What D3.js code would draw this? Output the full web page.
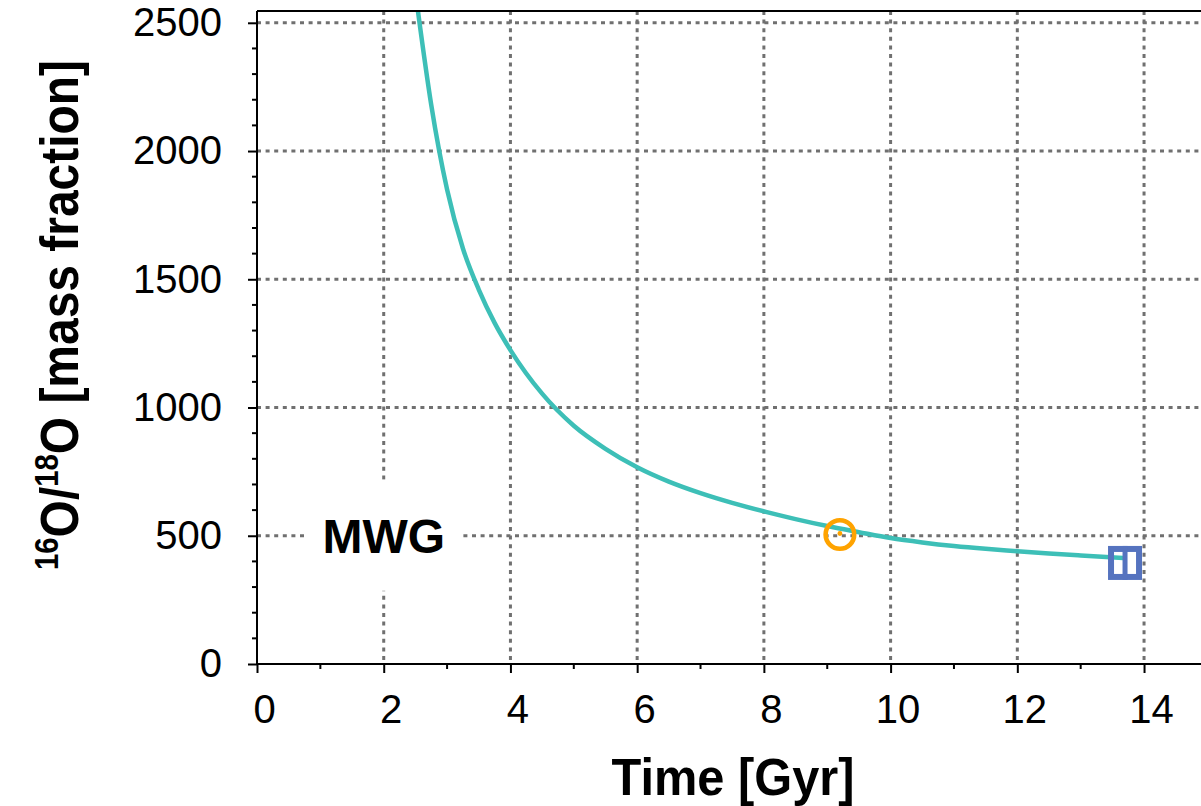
<!DOCTYPE html>
<html>
<head>
<meta charset="utf-8">
<script src="https://cdn.jsdelivr.net/npm/d3@7"></script>
<style>
  html, body { margin: 0; padding: 0; background: #fff; }
  svg { display: block; }
  text { font-family: "Liberation Sans", Arial, Helvetica, sans-serif; }
</style>
</head>
<body>
<svg id="chart" width="1201" height="806"></svg>
<script>
// Galactic chemical evolution of the oxygen isotope ratio (MWG model)
const curveTime  = [2.54, 2.75, 3.0, 3.25, 3.5, 3.75, 4.0, 4.5, 5.0, 5.5, 6.0, 6.5, 7.0, 7.5, 8.0,
                    8.5, 9.0, 9.5, 10.0, 10.5, 11.0, 11.5, 12.0, 12.5, 13.0, 13.67];
const curveRatio = [2546, 2180, 1850, 1620, 1460, 1330, 1224, 1054, 929, 839, 767, 711, 666, 628, 595,
                    565, 538, 514, 491, 474, 460, 449, 440, 431, 423, 413];

// Solar system (at birth) and present-day local ISM reference values
const solarPoint = { time: 9.2, ratio: 505 };
const ismPoint   = { time: 13.7, ratio: 394 };

const xTickValues = [0, 2, 4, 6, 8, 10, 12, 14];
const xMinorTicks = d3.range(0, 16, 1);
const yTickValues = [0, 500, 1000, 1500, 2000, 2500];
const yMinorTicks = d3.range(0, 2600, 100);

const svg = d3.select("#chart");
const W = 1201, H = 806;
const plotLeft = 257, plotTop = 11, plotBottom = 664;

const x = d3.scaleLinear().domain([0, 15]).range([plotLeft, plotLeft + 15 * 63.36]);
const y = d3.scaleLinear().domain([0, 2546]).range([plotBottom, plotTop]);

const gridColor = "#707070";

// clip region for the plot area
svg.append("defs").append("clipPath").attr("id", "plotClip")
  .append("rect").attr("x", plotLeft).attr("y", plotTop)
  .attr("width", W - plotLeft).attr("height", plotBottom - plotTop);

// dotted grid
const grid = svg.append("g").attr("stroke", gridColor).attr("stroke-width", 3)
  .attr("stroke-dasharray", "4,4.6").attr("fill", "none");
grid.selectAll("line.h").data(yTickValues.filter(d => d > 0)).join("line")
  .attr("class", "h")
  .attr("x1", plotLeft).attr("x2", W)
  .attr("y1", d => y(d)).attr("y2", d => y(d));
grid.selectAll("line.v").data(xTickValues.filter(d => d > 0)).join("line")
  .attr("class", "v")
  .attr("x1", d => x(d)).attr("x2", d => x(d))
  .attr("y1", plotTop).attr("y2", plotBottom);

// MWG label with a white backing box
const labelG = svg.append("g");
labelG.append("rect")
  .attr("x", x(2) - 78).attr("y", y(500) - 56)
  .attr("width", 156).attr("height", 111)
  .attr("fill", "#fff");
labelG.append("text")
  .attr("x", x(2)).attr("y", y(500) + 17)
  .attr("text-anchor", "middle")
  .attr("font-size", 48).attr("font-weight", "bold")
  .text("MWG");

// model curve
const line = d3.line()
  .x((d, i) => x(curveTime[i]))
  .y((d, i) => y(curveRatio[i]))
  .curve(d3.curveMonotoneX);
svg.append("path")
  .attr("clip-path", "url(#plotClip)")
  .attr("d", line(curveTime))
  .attr("fill", "none")
  .attr("stroke", "#3dbfb7")
  .attr("stroke-width", 4.5);

// solar value marker
svg.append("circle")
  .attr("cx", x(solarPoint.time)).attr("cy", y(solarPoint.ratio))
  .attr("r", 14.3)
  .attr("fill", "none").attr("stroke", "#ffa300").attr("stroke-width", 4.6);
svg.append("circle")
  .attr("cx", x(solarPoint.time)).attr("cy", y(solarPoint.ratio) - 1)
  .attr("r", 2.4).attr("fill", "#ffa300");

// present-day ISM marker
const sq = 34, sw = 6;
const ix = x(ismPoint.time), iy = y(ismPoint.ratio);
svg.append("rect")
  .attr("x", ix - sq / 2 + sw / 2).attr("y", iy - sq / 2 + sw / 2)
  .attr("width", sq - sw).attr("height", sq - sw)
  .attr("fill", "none").attr("stroke", "#5573bf").attr("stroke-width", sw);
svg.append("rect")
  .attr("x", ix - 2.5).attr("y", iy - sq / 2)
  .attr("width", 5).attr("height", sq)
  .attr("fill", "#5573bf");

// axes frame
const axisG = svg.append("g").attr("stroke", "#000").attr("stroke-width", 2).attr("fill", "none");
axisG.append("line").attr("x1", plotLeft).attr("x2", plotLeft).attr("y1", plotTop).attr("y2", plotBottom);
axisG.append("line").attr("x1", plotLeft - 1).attr("x2", W).attr("y1", plotBottom).attr("y2", plotBottom);
axisG.append("line").attr("x1", plotLeft).attr("x2", W).attr("y1", plotTop).attr("y2", plotTop);

// x axis ticks
const xAxis = d3.axisBottom(x).tickValues(xTickValues).tickSize(9).tickPadding(22)
  .tickFormat(d3.format("d"));
const gx = svg.append("g").attr("transform", `translate(0,${plotBottom})`).call(xAxis);
gx.select(".domain").remove();
gx.selectAll(".tick line").attr("stroke-width", 2);
gx.selectAll(".tick text").attr("font-size", 40).attr("dx", 7)
  .attr("font-family", "'Liberation Sans', Arial, sans-serif").attr("fill", "#000");
svg.append("g").attr("stroke", "#000").attr("stroke-width", 2)
  .selectAll("line").data(xMinorTicks.filter(d => d % 2 === 1)).join("line")
  .attr("x1", d => x(d)).attr("x2", d => x(d))
  .attr("y1", plotBottom).attr("y2", plotBottom + 5);

// y axis ticks
const yAxis = d3.axisLeft(y).tickValues(yTickValues).tickSize(9).tickPadding(26)
  .tickFormat(d3.format("d"));
const gy = svg.append("g").attr("transform", `translate(${plotLeft},0)`).call(yAxis);
gy.select(".domain").remove();
gy.selectAll(".tick line").attr("stroke-width", 2);
gy.selectAll(".tick text").attr("font-size", 40)
  .attr("font-family", "'Liberation Sans', Arial, sans-serif").attr("fill", "#000");
svg.append("g").attr("stroke", "#000").attr("stroke-width", 2)
  .selectAll("line").data(yMinorTicks.filter(d => d % 500 !== 0)).join("line")
  .attr("x1", plotLeft - 5).attr("x2", plotLeft)
  .attr("y1", d => y(d)).attr("y2", d => y(d));

// axis titles
svg.append("text")
  .attr("x", 733).attr("y", 795)
  .attr("text-anchor", "middle")
  .attr("font-size", 52).attr("font-weight", "bold")
  .attr("textLength", 243).attr("lengthAdjust", "spacingAndGlyphs")
  .text("Time [Gyr]");

const yTitle = svg.append("text")
  .attr("transform", "translate(78,315) rotate(-90)")
  .attr("text-anchor", "middle")
  .attr("font-size", 54).attr("font-weight", "bold")
  .attr("textLength", 510).attr("lengthAdjust", "spacingAndGlyphs");
yTitle.append("tspan").attr("font-size", 33).attr("dy", -20).text("16");
yTitle.append("tspan").attr("dy", 20).text("O/");
yTitle.append("tspan").attr("font-size", 33).attr("dy", -20).text("18");
yTitle.append("tspan").attr("dy", 20).text("O [mass fraction]");
</script>
</body>
</html>
